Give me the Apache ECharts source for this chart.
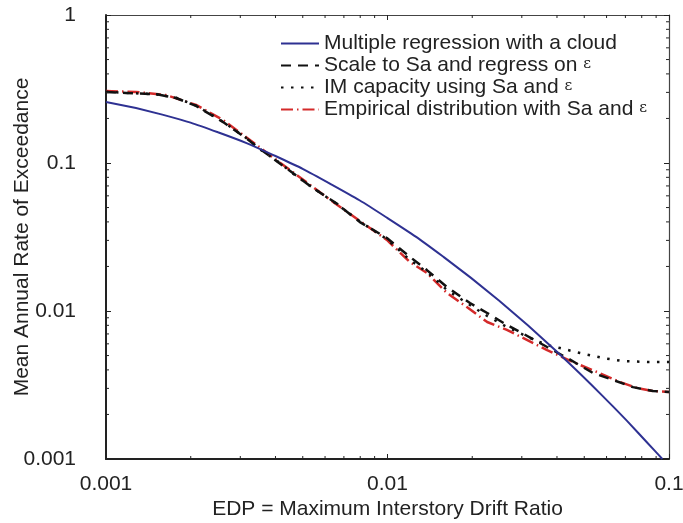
<!DOCTYPE html>
<html>
<head>
<meta charset="utf-8">
<script src="https://cdn.jsdelivr.net/npm/echarts@6/dist/echarts.min.js"></script>
<style>html,body{margin:0;padding:0;background:#fff}#c{width:683px;height:523px}</style>
</head>
<body>
<div id="c"></div>
<script>
// ---- data ----
const seriesNames = [
  'Multiple regression with a cloud',
  'Scale to Sa and regress on ε',
  'IM capacity using Sa and ε',
  'Empirical distribution with Sa and ε'
];
const xTickLabels = ['0.001', '0.01', '0.1'];
const yTickLabels = ['0.001', '0.01', '0.1', '1'];

const cloudX = [0.001, 0.001585, 0.002512, 0.003981, 0.00631, 0.01, 0.01585, 0.02512, 0.03981, 0.0631, 0.0891, 0.0947];
const cloudY = [0.2582, 0.2123, 0.1607, 0.1119, 0.0718, 0.04246, 0.02312, 0.01159, 0.005353, 0.002275, 0.001135, 0.001];

const scaleX = [0.001, 0.001178, 0.001507, 0.001773, 0.002089, 0.002606, 0.00314, 0.003495, 0.00412, 0.00461, 0.00543, 0.00656, 0.00798, 0.00995, 0.01202, 0.0138, 0.01626, 0.01963, 0.0226, 0.02655, 0.0296, 0.0369, 0.0435, 0.0537, 0.0633, 0.0745, 0.0877, 0.1];
const scaleY = [0.302, 0.297, 0.292, 0.275, 0.243, 0.189, 0.1476, 0.126, 0.100, 0.0856, 0.0678, 0.0537, 0.0399, 0.0311, 0.0232, 0.0189, 0.01453, 0.01132, 0.00969, 0.00804, 0.00721, 0.00571, 0.00481, 0.00381, 0.00342, 0.00306, 0.00288, 0.00284];

const capX = [0.001, 0.001178, 0.001507, 0.001773, 0.002089, 0.002606, 0.00314, 0.003495, 0.00412, 0.00461, 0.00543, 0.00656, 0.00798, 0.00995, 0.01202, 0.0138, 0.01626, 0.01963, 0.0226, 0.02655, 0.0321, 0.0369, 0.0410, 0.0483, 0.0583, 0.0687, 0.0836, 0.1];
const capY = [0.303, 0.298, 0.291, 0.276, 0.244, 0.190, 0.148, 0.125, 0.101, 0.0850, 0.0680, 0.0533, 0.0402, 0.0306, 0.0221, 0.01836, 0.01387, 0.01098, 0.00925, 0.0078, 0.00657, 0.00589, 0.00562, 0.0052, 0.00481, 0.00459, 0.00452, 0.00452];

const empX = [0.001, 0.00128, 0.00163, 0.002089, 0.002606, 0.00314, 0.00412, 0.00543, 0.00656, 0.00798, 0.00995, 0.01202, 0.0138, 0.01626, 0.01914, 0.0226, 0.02655, 0.0369, 0.0456, 0.0555, 0.067, 0.0769, 0.0877, 0.1];
const empY = [0.306, 0.302, 0.288, 0.247, 0.195, 0.150, 0.1016, 0.0689, 0.0528, 0.0406, 0.0302, 0.0214, 0.0181, 0.01324, 0.01064, 0.00843, 0.00745, 0.00545, 0.00452, 0.00387, 0.00331, 0.00302, 0.00288, 0.00284];

const minorMantissas = [2, 3, 4, 5, 6, 7, 8, 9];
const xDecades = [0.001, 0.01];
const yDecades = [0.001, 0.01, 0.1];

// ---- build ----
const pairs = (xs, ys) => xs.map((x, i) => [x, ys[i]]);
const xMinor = [];
xDecades.forEach(d => minorMantissas.forEach(m => xMinor.push([m * d, 0.001])));
const yMinor = [];
yDecades.forEach(d => minorMantissas.forEach(m => yMinor.push([0.001, m * d])));

const FONT = 'Liberation Sans';
const FS = 21;
const AX = '#222';
const labelFmt = labels => v => {
  const k = Math.round(Math.log10(v));
  const map = {};
  labels.forEach(l => map[Math.round(Math.log10(parseFloat(l)))] = l);
  return map[k] !== undefined ? map[k] : '';
};

const chart = echarts.init(document.getElementById('c'), null, {renderer: 'canvas'});

function tickRender(dir) {
  return function (params, api) {
    const v0 = api.value(0), v1 = api.value(1);
    let a, b;
    if (dir === 'x') {
      a = api.coord([v0, 0.001]);
      b = api.coord([v0, 1]);
      return {type: 'group', children: [
        {type: 'line', shape: {x1: a[0], y1: a[1], x2: a[0], y2: a[1] - 3}, style: {stroke: AX, lineWidth: 1}},
        {type: 'line', shape: {x1: b[0], y1: b[1], x2: b[0], y2: b[1] + 3}, style: {stroke: AX, lineWidth: 1}}
      ]};
    } else {
      a = api.coord([0.001, v1]);
      b = api.coord([0.1, v1]);
      return {type: 'group', children: [
        {type: 'line', shape: {x1: a[0], y1: a[1], x2: a[0] + 3, y2: a[1]}, style: {stroke: AX, lineWidth: 1}},
        {type: 'line', shape: {x1: b[0], y1: b[1], x2: b[0] - 3, y2: b[1]}, style: {stroke: AX, lineWidth: 1}}
      ]};
    }
  };
}

const baseX = {
  type: 'log', logBase: 10, min: 0.001, max: 0.1,
  splitLine: {show: false}, minorTick: {show: false}
};
const baseY = {
  type: 'log', logBase: 10, min: 0.001, max: 1,
  splitLine: {show: false}, minorTick: {show: false}
};

chart.setOption({
  animation: false,
  backgroundColor: '#fff',
  textStyle: {fontFamily: FONT},
  grid: {left: 106, right: 14, top: 15, bottom: 64, containLabel: false, outerBoundsMode: 'none'},
  legend: {
    orient: 'vertical', left: 280, top: 33, itemGap: 1, padding: 0,
    itemWidth: 38, itemHeight: 14,
    data: seriesNames,
    itemStyle: {color: 'rgba(0,0,0,0)', borderWidth: 0, opacity: 0},
    textStyle: {fontFamily: FONT, fontSize: FS, color: '#222',
      rich: {e: {fontFamily: 'DejaVu Serif', fontSize: 15, color: '#222', verticalAlign: 'middle', padding: [0, 0, 2, 0]}}},
    formatter: n => n.replace('ε', '{e|ε}')
  },
  xAxis: [
    Object.assign({}, baseX, {
      position: 'bottom',
      name: 'EDP = Maximum Interstory Drift Ratio', nameLocation: 'middle', nameGap: 40, nameMoveOverlap: false,
      nameTextStyle: {fontFamily: FONT, fontSize: FS, color: '#222'},
      axisLine: {lineStyle: {color: AX, width: 2}},
      axisTick: {inside: true, length: 5, lineStyle: {color: AX, width: 1}},
      axisLabel: {fontFamily: FONT, fontSize: FS, color: '#222', margin: 15, formatter: labelFmt(xTickLabels), showMinLabel: true, showMaxLabel: true}
    }),
    Object.assign({}, baseX, {
      position: 'top',
      axisLine: {lineStyle: {color: '#444', width: 1.2}},
      axisTick: {inside: true, length: 5, lineStyle: {color: AX, width: 1}},
      axisLabel: {show: false}
    })
  ],
  yAxis: [
    Object.assign({}, baseY, {
      position: 'left',
      name: 'Mean Annual Rate of Exceedance', nameLocation: 'middle', nameGap: 73, nameRotate: 90, nameMoveOverlap: false,
      nameTextStyle: {fontFamily: FONT, fontSize: FS, color: '#222'},
      axisLine: {lineStyle: {color: AX, width: 2}},
      axisTick: {inside: true, length: 5, lineStyle: {color: AX, width: 1}},
      axisLabel: {fontFamily: FONT, fontSize: FS, color: '#222', margin: 30, formatter: labelFmt(yTickLabels), showMinLabel: true, showMaxLabel: true}
    }),
    Object.assign({}, baseY, {
      position: 'right',
      axisLine: {lineStyle: {color: '#444', width: 1.2}},
      axisTick: {inside: true, length: 5, lineStyle: {color: AX, width: 1}},
      axisLabel: {show: false}
    })
  ],
  series: [
    {
      name: seriesNames[3], type: 'line', data: pairs(empX, empY), symbol: 'none', z: 2,
      lineStyle: {color: '#d42a2a', width: 2.5, type: [12, 4, 1.5, 4]}, itemStyle: {color: '#d42a2a'}
    },
    {
      name: seriesNames[2], type: 'line', data: pairs(capX, capY), symbol: 'none', z: 3,
      lineStyle: {color: '#111', width: 2.5, type: [2.5, 7.5]}, itemStyle: {color: '#111'}
    },
    {
      name: seriesNames[1], type: 'line', data: pairs(scaleX, scaleY), symbol: 'none', z: 4,
      lineStyle: {color: '#111', width: 2.5, type: [10, 7]}, itemStyle: {color: '#111'}
    },
    {
      name: seriesNames[0], type: 'line', data: pairs(cloudX, cloudY), symbol: 'none', z: 5, smooth: true,
      lineStyle: {color: '#2e3192', width: 2}, itemStyle: {color: '#2e3192'}
    },
    {
      type: 'custom', silent: true, data: xMinor, renderItem: tickRender('x'), z: 6
    },
    {
      type: 'custom', silent: true, data: yMinor, renderItem: tickRender('y'), z: 6
    }
  ]
});
</script>
</body>
</html>
